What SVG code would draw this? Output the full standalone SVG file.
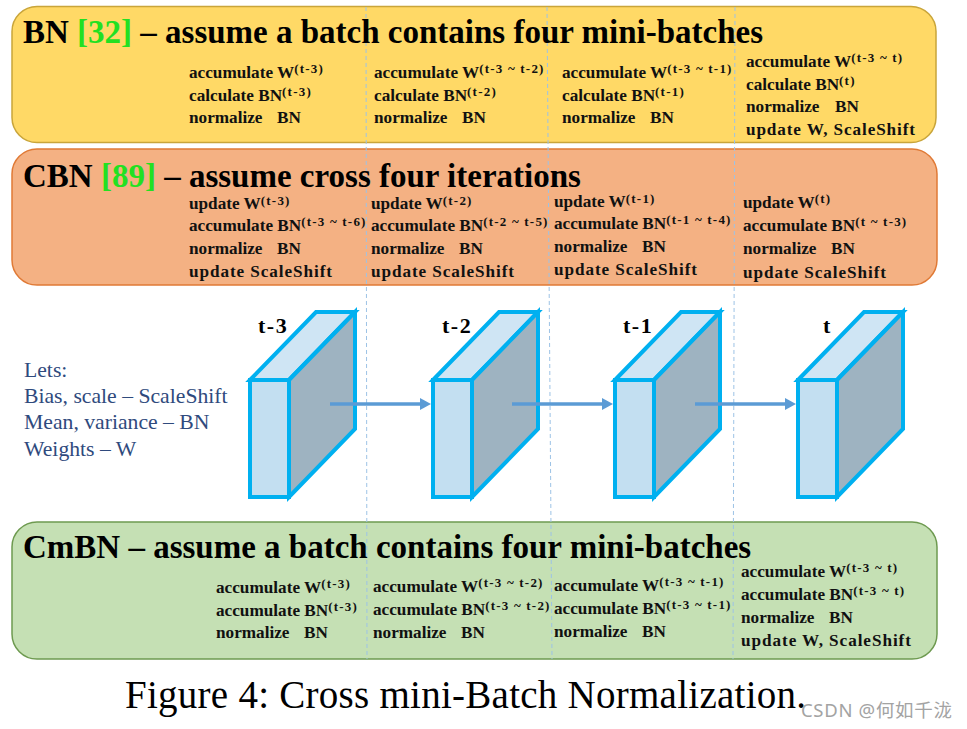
<svg xmlns="http://www.w3.org/2000/svg" xmlns:xlink="http://www.w3.org/1999/xlink" width="967" height="729" viewBox="0 0 967 729">
<style>
.title{font-family:"Liberation Serif","Times New Roman",serif;font-weight:bold;font-size:33px;fill:#000}
.ref{fill:#22E022}
.row{font-family:"Liberation Serif","Times New Roman",serif;font-weight:bold;font-size:17.2px;fill:#111}
.sup{font-size:13px;letter-spacing:1.2px}
.lbl{font-family:"Liberation Serif","Times New Roman",serif;font-weight:bold;font-size:22px;letter-spacing:1.5px;fill:#000}
.leg{font-family:"Liberation Serif","Times New Roman",serif;font-size:21.7px;fill:#2F4A7D}
.cap{font-family:"Liberation Serif","Times New Roman",serif;font-size:39px;fill:#000}
.wm{font-family:"Noto Sans","Noto Sans CJK SC",sans-serif;font-size:18.5px;fill:#A3A3A3}
.div{stroke:#9DC3E6;stroke-width:1;stroke-dasharray:4 3;fill:none}
.cube polygon{stroke:#00B0F0;stroke-width:4;stroke-linejoin:miter}
.arrow{stroke:#5B9BD5;stroke-width:3.3;fill:none}
</style>
<defs>
<g id="cube" class="cube">
<polygon points="0,0 66,-68 105,-68 39,0" fill="#CFE5F4"/>
<polygon points="39,0 105,-68 105,49 39,117" fill="#9EB3C1"/>
<polygon points="0,0 39,0 39,117 0,117" fill="#C3DFF1"/>
</g>
<marker id="ah" markerUnits="userSpaceOnUse" markerWidth="12" markerHeight="12" refX="3" refY="6" orient="auto">
<path d="M0,0 L11,6 L0,12 z" fill="#5B9BD5"/>
</marker>
</defs>
<rect width="967" height="729" fill="#fff"/>

<g id="bn-panel">
<rect x="12" y="6.5" width="924" height="136" rx="25" fill="#FFD966" stroke="#C9A53A" stroke-width="1.5"/>
</g>
<g id="cbn-panel">
<rect x="12" y="149" width="925" height="136" rx="25" fill="#F4B183" stroke="#E07A36" stroke-width="1.5"/>
</g>
<g id="cmbn-panel">
<rect x="12" y="522" width="925" height="137" rx="25" fill="#C5E0B4" stroke="#6E9A50" stroke-width="1.5"/>
</g>

<g id="dividers">
<line class="div" x1="366" y1="7" x2="367" y2="659"/>
<line class="div" x1="547" y1="7" x2="552" y2="659"/>
<line class="div" x1="735" y1="7" x2="733" y2="659"/>
</g>

<g id="bn-text">
<text class="title" x="23" y="43">BN <tspan class="ref">[32]</tspan> – assume a batch contains four mini-batches</text>
<text class="row" x="189" y="78">accumulate W<tspan class="sup" dy="-5.5">(t-3)</tspan></text>
<text class="row" x="189" y="101">calculate BN<tspan class="sup" dy="-5.5">(t-3)</tspan></text>
<text class="row" x="189" y="123">normalize<tspan x="277">BN</tspan></text>
<text class="row" x="374" y="78">accumulate W<tspan class="sup" dy="-5.5">(t-3 ~ t-2)</tspan></text>
<text class="row" x="374" y="101">calculate BN<tspan class="sup" dy="-5.5">(t-2)</tspan></text>
<text class="row" x="374" y="123">normalize<tspan x="462">BN</tspan></text>
<text class="row" x="562" y="78">accumulate W<tspan class="sup" dy="-5.5">(t-3 ~ t-1)</tspan></text>
<text class="row" x="562" y="101">calculate BN<tspan class="sup" dy="-5.5">(t-1)</tspan></text>
<text class="row" x="562" y="123">normalize<tspan x="650">BN</tspan></text>
<text class="row" x="746" y="67">accumulate W<tspan class="sup" dy="-5.5">(t-3 ~ t)</tspan></text>
<text class="row" x="746" y="90">calculate BN<tspan class="sup" dy="-5.5">(t)</tspan></text>
<text class="row" x="746" y="112">normalize<tspan x="835">BN</tspan></text>
<text class="row" x="746" y="135" textLength="169" lengthAdjust="spacing">update W, ScaleShift</text>
</g>

<g id="cbn-text">
<text class="title" x="23" y="187">CBN <tspan class="ref">[89]</tspan> – assume cross four iterations</text>
<text class="row" x="189" y="209">update W<tspan class="sup" dy="-4">(t-3)</tspan></text>
<text class="row" x="189" y="231">accumulate BN<tspan class="sup" dy="-5.5">(t-3 ~ t-6)</tspan></text>
<text class="row" x="189" y="254">normalize<tspan x="277">BN</tspan></text>
<text class="row" x="189" y="277" textLength="143" lengthAdjust="spacing">update ScaleShift</text>
<text class="row" x="371" y="209">update W<tspan class="sup" dy="-4">(t-2)</tspan></text>
<text class="row" x="371" y="231">accumulate BN<tspan class="sup" dy="-5.5">(t-2 ~ t-5)</tspan></text>
<text class="row" x="371" y="254">normalize<tspan x="459">BN</tspan></text>
<text class="row" x="371" y="277" textLength="143" lengthAdjust="spacing">update ScaleShift</text>
<text class="row" x="554" y="207">update W<tspan class="sup" dy="-4.5">(t-1)</tspan></text>
<text class="row" x="554" y="229">accumulate BN<tspan class="sup" dy="-5.5">(t-1 ~ t-4)</tspan></text>
<text class="row" x="554" y="252">normalize<tspan x="642">BN</tspan></text>
<text class="row" x="554" y="275" textLength="143" lengthAdjust="spacing">update ScaleShift</text>
<text class="row" x="743" y="208">update W<tspan class="sup" dy="-5">(t)</tspan></text>
<text class="row" x="743" y="231">accumulate BN<tspan class="sup" dy="-5.5">(t ~ t-3)</tspan></text>
<text class="row" x="743" y="254">normalize<tspan x="831">BN</tspan></text>
<text class="row" x="743" y="278" textLength="143" lengthAdjust="spacing">update ScaleShift</text>
</g>

<g id="legend">
<text class="leg" x="24" y="377">Lets:</text>
<text class="leg" x="24" y="403">Bias, scale – ScaleShift</text>
<text class="leg" x="24" y="429">Mean, variance – BN</text>
<text class="leg" x="24" y="456">Weights – W</text>
</g>

<g id="node-t3">
<use xlink:href="#cube" href="#cube" x="250" y="380"/>
<text class="lbl" x="258" y="333">t-3</text>
</g>
<g id="node-t2">
<use xlink:href="#cube" href="#cube" x="433" y="380"/>
<text class="lbl" x="442" y="333">t-2</text>
</g>
<g id="node-t1">
<use xlink:href="#cube" href="#cube" x="615" y="380"/>
<text class="lbl" x="623" y="333">t-1</text>
</g>
<g id="node-t">
<use xlink:href="#cube" href="#cube" x="798" y="380"/>
<text class="lbl" x="823" y="333">t</text>
</g>

<g id="connectors">
<line class="arrow" x1="330" y1="404" x2="423" y2="404" marker-end="url(#ah)"/>
<line class="arrow" x1="512" y1="404" x2="605" y2="404" marker-end="url(#ah)"/>
<line class="arrow" x1="695" y1="404" x2="788" y2="404" marker-end="url(#ah)"/>
</g>

<g id="cmbn-text">
<text class="title" x="23" y="558">CmBN – assume a batch contains four mini-batches</text>
<text class="row" x="216" y="593">accumulate W<tspan class="sup" dy="-5.5">(t-3)</tspan></text>
<text class="row" x="216" y="616">accumulate BN<tspan class="sup" dy="-5.5">(t-3)</tspan></text>
<text class="row" x="216" y="638">normalize<tspan x="304">BN</tspan></text>
<text class="row" x="373" y="592">accumulate W<tspan class="sup" dy="-5.5">(t-3 ~ t-2)</tspan></text>
<text class="row" x="373" y="615">accumulate BN<tspan class="sup" dy="-5.5">(t-3 ~ t-2)</tspan></text>
<text class="row" x="373" y="638">normalize<tspan x="461">BN</tspan></text>
<text class="row" x="554" y="591">accumulate W<tspan class="sup" dy="-5.5">(t-3 ~ t-1)</tspan></text>
<text class="row" x="554" y="614">accumulate BN<tspan class="sup" dy="-5.5">(t-3 ~ t-1)</tspan></text>
<text class="row" x="554" y="637">normalize<tspan x="642">BN</tspan></text>
<text class="row" x="741" y="577">accumulate W<tspan class="sup" dy="-5.5">(t-3 ~ t)</tspan></text>
<text class="row" x="741" y="600">accumulate BN<tspan class="sup" dy="-5.5">(t-3 ~ t)</tspan></text>
<text class="row" x="741" y="623">normalize<tspan x="829">BN</tspan></text>
<text class="row" x="741" y="646" textLength="170" lengthAdjust="spacing">update W, ScaleShift</text>
</g>

<g id="caption">
<text class="cap" x="125" y="708" textLength="681" lengthAdjust="spacing">Figure 4: Cross mini-Batch Normalization.</text>
<text class="wm" x="801" y="717" textLength="151" lengthAdjust="spacing">CSDN @何如千泷</text>
</g>
</svg>
